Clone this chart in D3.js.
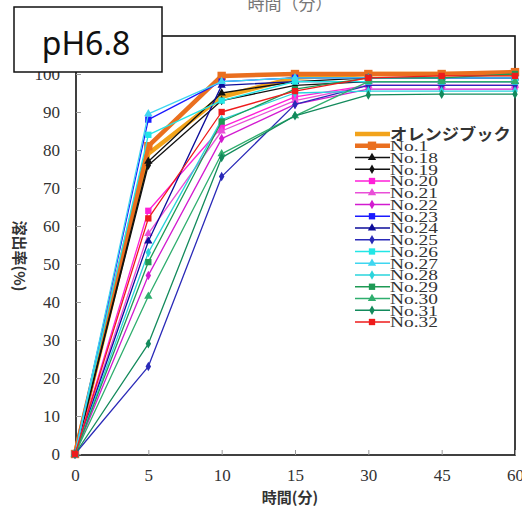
<!DOCTYPE html>
<html>
<head>
<meta charset="utf-8">
<script src="https://cdn.jsdelivr.net/npm/d3@7"></script>
<style>
  body { margin: 0; background: #fff; }
  svg { display: block; }
  .serif { font-family: "Liberation Serif", "Times New Roman", "DejaVu Serif", serif; }
  .cjk { font-family: "Noto Sans CJK JP", sans-serif; }
</style>
</head>
<body>
<svg id="chart" width="522" height="511"></svg>
<script>
// time points (minutes) on the x axis
var times = ["0", "5", "10", "15", "30", "45", "60"];
var yTicks = [0, 10, 20, 30, 40, 50, 60, 70, 80, 90, 100];

// dissolution rate (%) per series
var seriesNames = ["オレンジブック", "No.1", "No.18", "No.19", "No.20", "No.21", "No.22", "No.23",
    "No.24", "No.25", "No.26", "No.27", "No.28", "No.29", "No.30", "No.31", "No.32"];
var orangeBook = [0, 79, 94, 99, 100, 100, 100];
var no1  = [0, 81, 99.5, 100, 100, 100, 100.5];
var no18 = [0, 77, 95, 98, 99, 99, 99];
var no19 = [0, 76, 93, 97, 98, 98, 98];
var no20 = [0, 64, 86, 94, 97, 97, 97];
var no21 = [0, 58, 85, 93, 97, 97, 97];
var no22 = [0, 47, 83, 92, 96, 96, 96];
var no23 = [0, 88, 98, 99, 99, 99, 99];
var no24 = [0, 56, 97, 98, 98, 98, 98];
var no25 = [0, 23, 73, 92, 97, 97, 97];
var no26 = [0, 84, 93, 98, 98, 98, 98];
var no27 = [0, 89.5, 98, 99, 99, 99, 99];
var no28 = [0, 53, 88, 95, 95.5, 95.5, 95.5];
var no29 = [0, 50.5, 87.5, 96, 99, 99, 100];
var no30 = [0, 41.5, 79, 89, 98, 98, 98];
var no31 = [0, 29, 78, 89, 94.5, 94.7, 94.7];
var no32 = [0, 62, 90, 95.5, 99, 99.5, 99.5];

var seriesValues = [orangeBook, no1, no18, no19, no20, no21, no22, no23,
    no24, no25, no26, no27, no28, no29, no30, no31, no32];

// styling per series
var colors = ["#f2a31b", "#ea6f1f", "#111111", "#111111", "#ff1fd8", "#e94fd8", "#d21bd0", "#1a1aff",
    "#0d0d9a", "#2a2ab8", "#22e6e6", "#3fd6f0", "#2ad4dc", "#1e9a55", "#2fae6e", "#138a5c", "#ee1b1b"];
var symbols = [null, "square", "triangle", "diamond", "square", "triangle", "diamond", "square",
    "triangle", "diamond", "square", "triangle", "diamond", "square", "triangle", "diamond", "square"];

var svg = d3.select("#chart");
var margin = {top: 36, right: 7, bottom: 56, left: 76};
var width = 522 - margin.left - margin.right;
var height = 511 - margin.top - margin.bottom;

var serifFont = "'Liberation Serif', 'Times New Roman', serif";

var xScale = d3.scalePoint().domain(times).range([margin.left - 1, margin.left + width]);
var yScale = d3.scaleLinear().domain([0, 110]).range([margin.top + height - 1, margin.top]);

// partial title cut off at top
svg.append("text")
    .attr("class", "cjk")
    .attr("x", 290).attr("y", 10)
    .attr("text-anchor", "middle")
    .style("font-size", "17px").style("fill", "#777")
    .text("時間（分）");

// frame
svg.append("rect")
    .attr("x", margin.left).attr("y", margin.top)
    .attr("width", width).attr("height", height)
    .style("fill", "none").style("stroke", "#111").style("stroke-width", 1.6);

// x axis (ticks inward)
var xAxis = d3.axisBottom(xScale).tickSize(-5).tickPadding(14);
var gx = svg.append("g")
    .attr("class", "axis axis--x")
    .attr("transform", "translate(0," + (margin.top + height) + ")")
    .call(xAxis)
    .attr("font-family", serifFont);
gx.select(".domain").remove();
gx.selectAll("line").style("stroke", "#999");
gx.selectAll("text").style("font-family", serifFont).style("font-size", "17px").style("fill", "#333");

// y axis (ticks inward)
var yAxis = d3.axisLeft(yScale).tickValues(yTicks).tickSize(-5).tickPadding(16);
var gy = svg.append("g")
    .attr("class", "axis axis--y")
    .attr("transform", "translate(" + margin.left + ",0)")
    .call(yAxis)
    .attr("font-family", serifFont);
gy.select(".domain").remove();
gy.selectAll("line").style("stroke", "#999");
gy.selectAll("text").style("font-family", serifFont).style("font-size", "17px").style("fill", "#333");

// axis labels
svg.append("text")
    .attr("class", "cjk")
    .attr("x", 290).attr("y", 503)
    .attr("text-anchor", "middle")
    .style("font-size", "15px").style("font-weight", "bold").style("fill", "#333")
    .text("時間(分)");

svg.append("text")
    .attr("class", "cjk")
    .attr("transform", "translate(14,256) rotate(90)")
    .attr("text-anchor", "middle")
    .style("font-size", "15px").style("font-weight", "bold").style("fill", "#333")
    .text("溶出率(%)");

// symbols
var symbolType = {square: d3.symbolSquare, triangle: d3.symbolTriangle, diamond: d3.symbolDiamond};
function symbolPath(kind, thick) {
    var size = kind === "square" ? (thick ? 70 : 40) : (kind === "triangle" ? 30 : 26);
    return d3.symbol().type(symbolType[kind]).size(size)();
}

var line = d3.line()
    .x(function(d, i) { return xScale(times[i]); })
    .y(function(d) { return yScale(d); });

var plot = svg.append("g");
seriesNames.forEach(function(name, s) {
    var thick = s < 2;
    plot.append("path")
        .datum(seriesValues[s])
        .attr("d", line)
        .style("fill", "none")
        .style("stroke", colors[s])
        .style("stroke-width", thick ? 4.5 : 1.3)
        .style("stroke-linejoin", "round");
    if (symbols[s]) {
        plot.selectAll(".pt" + s)
            .data(seriesValues[s])
            .enter().append("path")
            .attr("class", "pt" + s)
            .attr("transform", function(d, i) { return "translate(" + xScale(times[i]) + "," + yScale(d) + ")"; })
            .attr("d", symbolPath(symbols[s], thick))
            .style("fill", colors[s]);
    }
});

// legend
var legend = svg.selectAll(".legend")
    .data(seriesNames)
    .enter().append("g")
    .attr("class", "legend")
    .attr("transform", function(d, i) { return "translate(355," + (134 + i * 11.75) + ")"; });

legend.append("line")
    .attr("x1", 0).attr("x2", 35)
    .style("stroke", function(d, i) { return colors[i]; })
    .style("stroke-width", function(d, i) { return i < 2 ? 4.5 : 1.3; });

legend.filter(function(d, i) { return symbols[i]; })
    .append("path")
    .attr("transform", "translate(17,0)")
    .attr("d", function(d) { var i = seriesNames.indexOf(d); return symbolPath(symbols[i], i < 2); })
    .style("fill", function(d) { return colors[seriesNames.indexOf(d)]; });

// legend labels, stretched wide like the scanned original
legend.append("text")
    .attr("class", function(d, i) { return i === 0 ? "cjk" : "serif"; })
    .attr("transform", function(d, i) { return i === 0 ? "translate(35,0) scale(1.08,1)" : "translate(35,0) scale(1.25,1)"; })
    .attr("dy", "0.35em")
    .style("font-weight", function(d, i) { return i === 0 ? "bold" : "normal"; })
    .style("font-size", function(d, i) { return i === 0 ? "16px" : "15.5px"; })
    .style("fill", "#333")
    .text(function(d) { return d; });

// pH label box
svg.append("rect")
    .attr("x", 14).attr("y", 7).attr("width", 148).attr("height", 65)
    .style("fill", "#fff").style("stroke", "#111").style("stroke-width", 1.5);
svg.append("text")
    .attr("x", 86).attr("y", 55)
    .attr("text-anchor", "middle")
    .style("font-family", "'Noto Sans', sans-serif").style("font-size", "32px").style("fill", "#111")
    .text("pH6.8");
</script>
</body>
</html>
